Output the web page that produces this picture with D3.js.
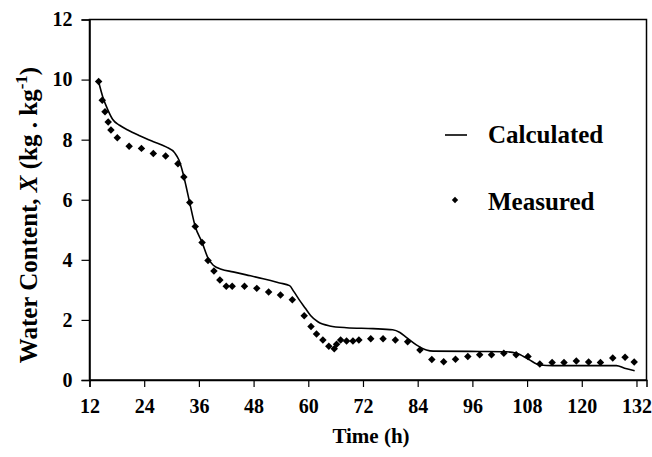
<!DOCTYPE html>
<html>
<head>
<meta charset="utf-8">
<script src="https://cdn.jsdelivr.net/npm/d3@7"></script>
<style>
	body { margin: 0; background: #fff; }
	text { font-family: "Liberation Serif", "Times New Roman", serif; font-weight: bold; fill: #000; }
</style>
</head>
<body>
<div id="chart"></div>
<script>
'use strict';

// time (h) and water content of the measured points
const measuredTime = [
	14.0, 14.8, 15.4, 16.1, 16.7, 18.1, 20.7, 23.4, 26.0, 28.7,
	31.4, 32.7, 34.0, 35.2, 36.7, 38.0, 39.3, 40.6, 42.0, 43.3,
	46.0, 48.7, 51.3, 53.9, 56.5, 59.1, 60.6, 61.8, 63.2, 64.5,
	65.7, 66.2, 67.1, 68.4, 69.8, 71.1, 73.7, 76.4, 79.1, 81.8,
	84.5, 87.1, 89.7, 92.3, 95.0, 97.6, 100.2, 102.9, 105.6, 108.2,
	110.8, 113.5, 116.1, 118.8, 121.5, 124.1, 126.8, 129.5, 131.5
];
const measuredX = [
	9.94, 9.31, 8.93, 8.59, 8.32, 8.06, 7.78, 7.71, 7.54, 7.46,
	7.20, 6.76, 5.91, 5.11, 4.58, 3.98, 3.63, 3.33, 3.12, 3.12,
	3.12, 3.05, 2.93, 2.83, 2.67, 2.14, 1.78, 1.53, 1.33, 1.12,
	1.04, 1.19, 1.33, 1.30, 1.30, 1.33, 1.37, 1.37, 1.33, 1.27,
	1.00, 0.68, 0.61, 0.69, 0.78, 0.84, 0.84, 0.89, 0.84, 0.78,
	0.53, 0.58, 0.58, 0.63, 0.60, 0.58, 0.73, 0.76, 0.60
];

// calculated curve
const calcTime = [
	14.0, 14.9, 16.0, 17.1, 18.6, 20.4, 23.0, 25.9, 28.8, 30.7,
	31.6, 32.5, 33.2, 34.0, 35.2, 36.7, 38.0, 39.1, 40.9, 43.5,
	46.4, 50.1, 53.7, 55.9, 56.8, 58.1, 59.4, 60.5, 62.1, 64.7,
	68.4, 74.2, 78.5, 80.1, 81.5, 83.7, 85.9, 87.4, 97.6, 103.4,
	105.7, 108.3, 110.8, 113.7, 127.6, 129.4, 131.6
];
const calcX = [
	9.93, 9.43, 9.00, 8.67, 8.48, 8.32, 8.13, 7.94, 7.76, 7.56,
	7.33, 6.89, 6.44, 5.89, 5.11, 4.58, 4.06, 3.83, 3.69, 3.60,
	3.50, 3.37, 3.23, 3.14, 2.95, 2.65, 2.38, 2.15, 1.94, 1.80,
	1.74, 1.71, 1.67, 1.58, 1.42, 1.17, 1.00, 0.96, 0.95, 0.94,
	0.89, 0.69, 0.50, 0.48, 0.48, 0.39, 0.31
];

const xTicks = [12, 24, 36, 48, 60, 72, 84, 96, 108, 120, 132];
const yTicks = [0, 2, 4, 6, 8, 10, 12];
const legendLabels = ["Calculated", "Measured"];


const drawChart = () =>
{
	const top    = 19.5;
	const left   = 89.5;
	const width  = 646.5 - left;
	const height = 380 - top;
	const x = d3.scaleLinear().domain([12, 134.2]).range([0, width]);
	const y = d3.scaleLinear().domain([0, 12]).range([height, 0]);

	const svg = d3.select("#chart")
		.append("svg")
		.attr("width", 652)
		.attr("height", 457)
		.append("g")
		.attr("transform", "translate(" + left + "," + top + ")");

	// frame
	svg.append("rect")
		.attr("width", width)
		.attr("height", height)
		.attr("fill", "none")
		.attr("stroke", "#000")
		.attr("stroke-width", 1.5);

	const xAxis = svg.append("g")
		.attr("transform", "translate(0," + height + ")")
		.call(d3.axisBottom(x).tickValues(xTicks).tickSize(7).tickPadding(12));

	const yAxis = svg.append("g")
		.call(d3.axisLeft(y).tickValues(yTicks).tickSize(8).tickPadding(9));

	[xAxis, yAxis].forEach(axis =>
	{
		axis.select(".domain").attr("stroke-width", 1.5);
		axis.selectAll("line").attr("stroke-width", 1.2);
		axis.selectAll("text")
			.style("font-family", "'Liberation Serif', serif")
			.style("font-weight", "bold")
			.style("font-size", "20px");
	});

	// axis titles
	svg.append("text")
		.attr("x", width / 2 + 3)
		.attr("y", height + 63)
		.attr("text-anchor", "middle")
		.style("font-size", "21px")
		.text("Time (h)");

	const yTitle = svg.append("text")
		.attr("transform", "translate(" + (37 - left) + "," + (215 - top) + ") rotate(-90)")
		.attr("text-anchor", "middle")
		.style("font-size", "25px");
	yTitle.append("tspan").text("Water Content, ");
	yTitle.append("tspan").style("font-style", "italic").text("X");
	yTitle.append("tspan").text(" (kg . kg");
	yTitle.append("tspan").attr("dy", -10).style("font-size", "17px").text("-1");
	yTitle.append("tspan").attr("dy", 10).text(")");

	// calculated line
	const calcData = calcTime.map((t, i) => ({ t: t, v: calcX[i] }));
	const line = d3.line()
		.x(d => x(d.t))
		.y(d => y(d.v))
		.curve(d3.curveMonotoneX);

	svg.append("path")
		.datum(calcData)
		.attr("d", line)
		.attr("fill", "none")
		.attr("stroke", "#000")
		.attr("stroke-width", 1.6);

	// measured points
	const measData = measuredTime.map((t, i) => ({ t: t, v: measuredX[i] }));
	const diamond = d3.symbol().type(d3.symbolSquare).size(28);

	svg.selectAll(".pt")
		.data(measData)
		.enter()
			.append("path")
			.attr("class", "pt")
			.attr("d", diamond)
			.attr("transform", d => "translate(" + x(d.t) + "," + y(d.v) + ") rotate(45)")
			.attr("fill", "#000");

	// legend
	const legend = svg.append("g");
	legend.append("line")
		.attr("x1", 445 - left).attr("x2", 467 - left)
		.attr("y1", 135 - top).attr("y2", 135 - top)
		.attr("stroke", "#000")
		.attr("stroke-width", 1.6);
	legend.append("path")
		.attr("d", d3.symbol().type(d3.symbolSquare).size(20))
		.attr("transform", "translate(" + (455 - left) + "," + (200 - top) + ") rotate(45)")
		.attr("fill", "#000");
	legend.selectAll(".lab")
		.data(legendLabels)
		.enter()
			.append("text")
			.attr("class", "lab")
			.attr("x", 488 - left)
			.attr("y", (d, i) => (i === 0 ? 143 : 210) - top)
			.style("font-size", "25px")
			.text(d => d);
};


document.addEventListener("DOMContentLoaded", () =>
{
	drawChart();
}, false);
</script>
</body>
</html>
